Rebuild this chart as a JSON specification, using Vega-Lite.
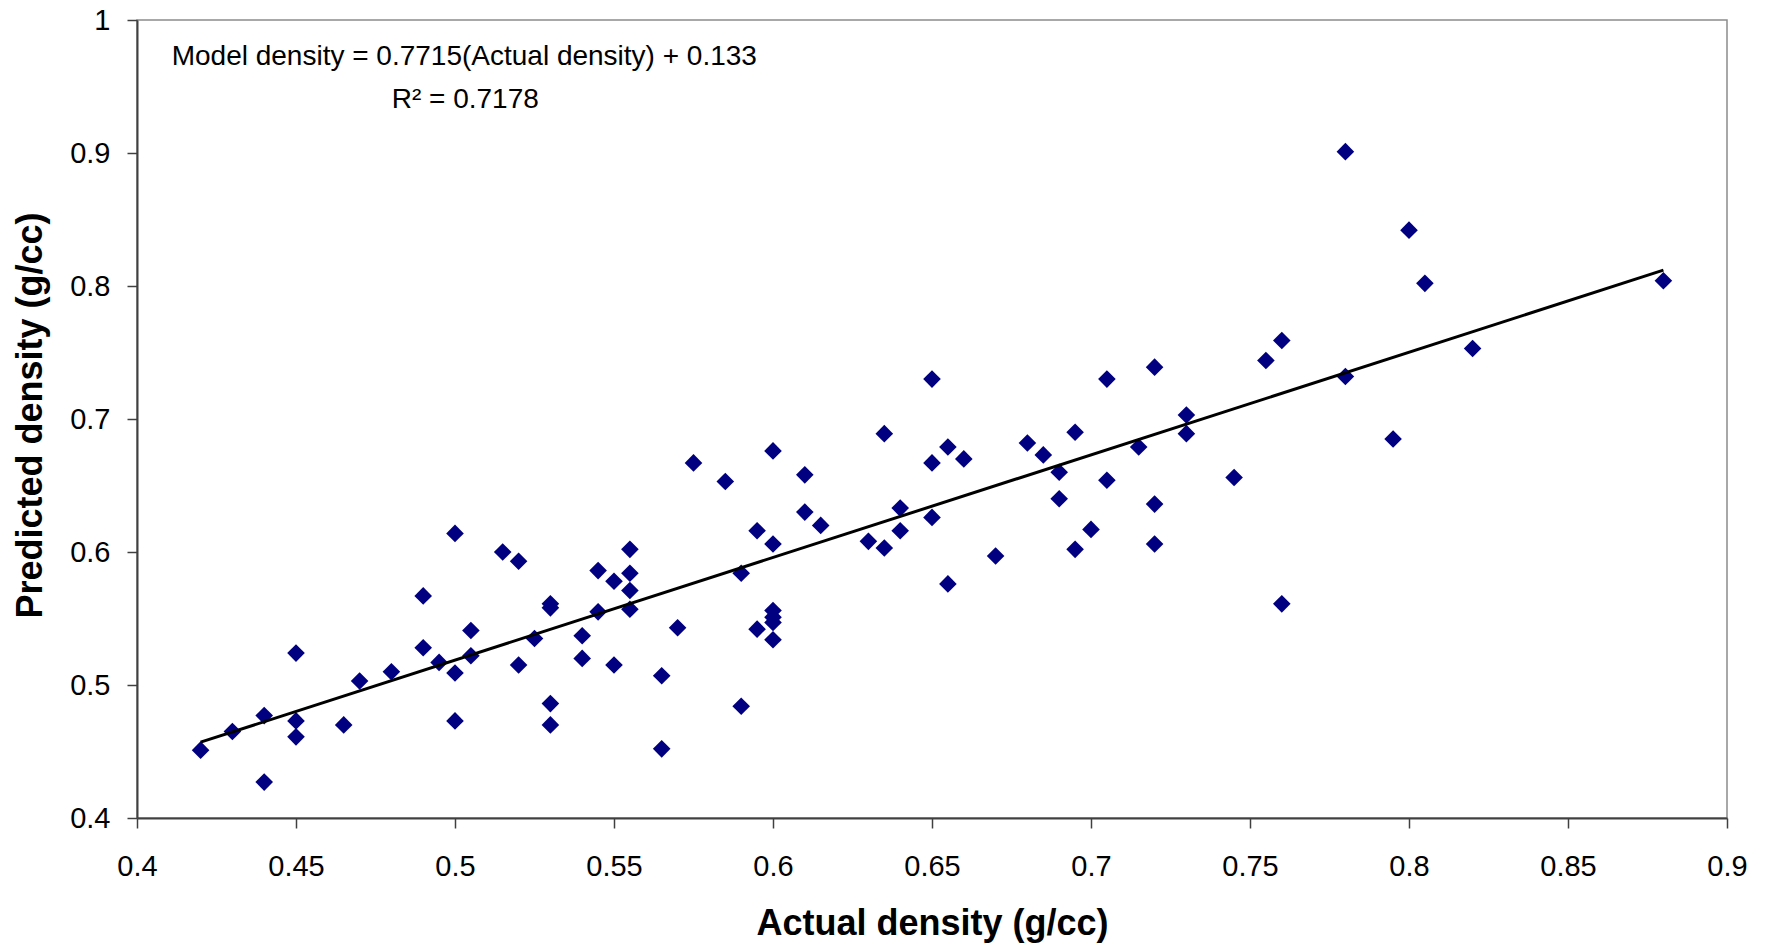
{
  "$schema": "https://vega.github.io/schema/vega-lite/v6.json",
  "width": 1590,
  "height": 798,
  "autosize": {"type": "none"},
  "padding": {"left": 137, "top": 20, "right": 43, "bottom": 128},
  "background": "white",
  "config": {
    "view": {"stroke": "#8c8c8c", "strokeWidth": 1.5},
    "font": "Liberation Sans"
  },
  "datasets": {
    "points": [
      {"actual": 0.42, "predicted": 0.451}, {"actual": 0.43, "predicted": 0.465}, {"actual": 0.44, "predicted": 0.477},
      {"actual": 0.44, "predicted": 0.427}, {"actual": 0.45, "predicted": 0.524}, {"actual": 0.45, "predicted": 0.473},
      {"actual": 0.45, "predicted": 0.461}, {"actual": 0.465, "predicted": 0.47}, {"actual": 0.47, "predicted": 0.503},
      {"actual": 0.48, "predicted": 0.51}, {"actual": 0.49, "predicted": 0.567}, {"actual": 0.49, "predicted": 0.528},
      {"actual": 0.495, "predicted": 0.517}, {"actual": 0.5, "predicted": 0.614}, {"actual": 0.5, "predicted": 0.509},
      {"actual": 0.5, "predicted": 0.473}, {"actual": 0.505, "predicted": 0.541}, {"actual": 0.505, "predicted": 0.522},
      {"actual": 0.515, "predicted": 0.6}, {"actual": 0.52, "predicted": 0.593}, {"actual": 0.52, "predicted": 0.515},
      {"actual": 0.525, "predicted": 0.535}, {"actual": 0.53, "predicted": 0.558}, {"actual": 0.53, "predicted": 0.561},
      {"actual": 0.53, "predicted": 0.486}, {"actual": 0.53, "predicted": 0.47}, {"actual": 0.54, "predicted": 0.537},
      {"actual": 0.54, "predicted": 0.52}, {"actual": 0.545, "predicted": 0.586}, {"actual": 0.545, "predicted": 0.555},
      {"actual": 0.55, "predicted": 0.578}, {"actual": 0.55, "predicted": 0.515}, {"actual": 0.555, "predicted": 0.602},
      {"actual": 0.555, "predicted": 0.584}, {"actual": 0.555, "predicted": 0.571}, {"actual": 0.555, "predicted": 0.557},
      {"actual": 0.565, "predicted": 0.507}, {"actual": 0.565, "predicted": 0.452}, {"actual": 0.57, "predicted": 0.543},
      {"actual": 0.575, "predicted": 0.667}, {"actual": 0.585, "predicted": 0.653}, {"actual": 0.59, "predicted": 0.584},
      {"actual": 0.59, "predicted": 0.484}, {"actual": 0.595, "predicted": 0.616}, {"actual": 0.595, "predicted": 0.542},
      {"actual": 0.6, "predicted": 0.676}, {"actual": 0.6, "predicted": 0.606}, {"actual": 0.6, "predicted": 0.556},
      {"actual": 0.6, "predicted": 0.551}, {"actual": 0.6, "predicted": 0.547}, {"actual": 0.6, "predicted": 0.534},
      {"actual": 0.61, "predicted": 0.658}, {"actual": 0.61, "predicted": 0.63}, {"actual": 0.615, "predicted": 0.62},
      {"actual": 0.63, "predicted": 0.608}, {"actual": 0.635, "predicted": 0.689}, {"actual": 0.635, "predicted": 0.603},
      {"actual": 0.64, "predicted": 0.633}, {"actual": 0.64, "predicted": 0.616}, {"actual": 0.65, "predicted": 0.73},
      {"actual": 0.65, "predicted": 0.667}, {"actual": 0.65, "predicted": 0.626}, {"actual": 0.655, "predicted": 0.679},
      {"actual": 0.655, "predicted": 0.576}, {"actual": 0.66, "predicted": 0.67}, {"actual": 0.67, "predicted": 0.597},
      {"actual": 0.68, "predicted": 0.682}, {"actual": 0.685, "predicted": 0.673}, {"actual": 0.69, "predicted": 0.66},
      {"actual": 0.69, "predicted": 0.64}, {"actual": 0.695, "predicted": 0.69}, {"actual": 0.695, "predicted": 0.602},
      {"actual": 0.7, "predicted": 0.617}, {"actual": 0.705, "predicted": 0.73}, {"actual": 0.705, "predicted": 0.654},
      {"actual": 0.715, "predicted": 0.679}, {"actual": 0.72, "predicted": 0.739}, {"actual": 0.72, "predicted": 0.636},
      {"actual": 0.72, "predicted": 0.606}, {"actual": 0.73, "predicted": 0.703}, {"actual": 0.73, "predicted": 0.689},
      {"actual": 0.745, "predicted": 0.656}, {"actual": 0.755, "predicted": 0.744}, {"actual": 0.76, "predicted": 0.759},
      {"actual": 0.76, "predicted": 0.561}, {"actual": 0.78, "predicted": 0.901}, {"actual": 0.78, "predicted": 0.732},
      {"actual": 0.795, "predicted": 0.685}, {"actual": 0.8, "predicted": 0.842}, {"actual": 0.805, "predicted": 0.802},
      {"actual": 0.82, "predicted": 0.753}, {"actual": 0.88, "predicted": 0.804}
    ],
    "trend": [
      {"actual": 0.42, "predicted": 0.4570},
      {"actual": 0.88, "predicted": 0.8119}
    ],
    "notes": [
      {"actual": 0.4109, "predicted": 0.9662, "label": "Model density = 0.7715(Actual density) + 0.133"},
      {"actual": 0.4801, "predicted": 0.9338, "label": "R² = 0.7178"}
    ]
  },
  "layer": [
    {
      "data": {"name": "points"},
      "mark": {"type": "point", "shape": "diamond", "filled": true, "size": 310, "color": "#000080", "opacity": 1},
      "encoding": {
        "x": {
          "field": "actual", "type": "quantitative",
          "scale": {"domain": [0.4, 0.9], "nice": false, "zero": false},
          "axis": {
            "title": "Actual density (g/cc)",
            "values": [0.4, 0.45, 0.5, 0.55, 0.6, 0.65, 0.7, 0.75, 0.8, 0.85, 0.9],
            "format": "~g",
            "grid": false,
            "domainColor": "#404040", "domainWidth": 2,
            "tickColor": "#404040", "tickWidth": 1.5, "tickSize": 10,
            "labelFont": "Liberation Sans", "labelFontSize": 29, "labelColor": "black", "labelPadding": 24,
            "labelFlush": false, "labelOverlap": false,
            "titleFont": "Liberation Sans", "titleFontSize": 36, "titleFontWeight": "bold", "titleColor": "black",
            "titleBaseline": "top", "titleY": 88
          }
        },
        "y": {
          "field": "predicted", "type": "quantitative",
          "scale": {"domain": [0.4, 1], "nice": false, "zero": false},
          "axis": {
            "title": "Predicted density (g/cc)",
            "values": [0.4, 0.5, 0.6, 0.7, 0.8, 0.9, 1],
            "format": "~g",
            "grid": false,
            "domainColor": "#404040", "domainWidth": 2,
            "tickColor": "#404040", "tickWidth": 1.5, "tickSize": 10,
            "labelFont": "Liberation Sans", "labelFontSize": 29, "labelColor": "black", "labelPadding": 17,
            "labelFlush": false, "labelOverlap": false,
            "titleFont": "Liberation Sans", "titleFontSize": 36, "titleFontWeight": "bold", "titleColor": "black",
            "titleBaseline": "bottom", "titleX": -88, "titleY": 395, "titleAngle": 270
          }
        }
      }
    },
    {
      "data": {"name": "trend"},
      "mark": {"type": "line", "color": "black", "strokeWidth": 3},
      "encoding": {
        "x": {"field": "actual", "type": "quantitative"},
        "y": {"field": "predicted", "type": "quantitative"}
      }
    },
    {
      "data": {"name": "notes"},
      "mark": {"type": "text", "align": "left", "baseline": "alphabetic", "font": "Liberation Sans", "fontSize": 28, "color": "black"},
      "encoding": {
        "x": {"field": "actual", "type": "quantitative"},
        "y": {"field": "predicted", "type": "quantitative"},
        "text": {"field": "label"}
      }
    }
  ]
}
